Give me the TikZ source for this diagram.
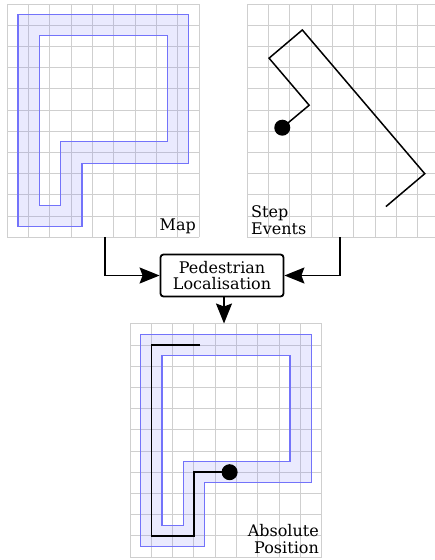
\documentclass[tikz,border=0pt]{standalone}
\usepackage{fontspec}
\setmainfont{DejaVu Serif}
\usetikzlibrary{arrows.meta,positioning}
\definecolor{wallc}{RGB}{115,115,250}

\begin{document}
\begin{tikzpicture}[
  x=1pt,y=-1pt,
  >={Stealth[length=20pt,width=16pt,inset=3pt]},
  cell/.style={x=21.33pt,y=21.2pt},
  gridline/.style={draw=gray!38,line width=1pt},
  corridor/.style={draw=wallc,line width=1.1pt,fill=wallc,
    fill opacity=0.15,even odd rule},
  track/.style={draw=black,line width=1.5pt,line join=miter},
  dot/.style={circle,fill=black,minimum size=16pt,inner sep=0pt},
  sig/.style={->,line width=1.6pt},
  block/.style={draw=black,fill=white,rounded corners=3pt,line width=1.8pt,
    minimum width=123pt,minimum height=42pt,align=center,inner sep=0pt},
  lab/.style={font=\fontsize{16}{16.7}\selectfont,align=right,inner sep=0pt}]

  \useasboundingbox (0,0) rectangle (435,560);

  % map
  \begin{scope}[shift={(7.3,237.3)},cell]
    \draw[gridline] (0,0) grid[step=1] (9,11);
    \draw[corridor] (0.5,0.5) -- (3.5,0.5) -- (3.5,3.5) -- (8.5,3.5) -- (8.5,10.5) -- (0.5,10.5) -- cycle
      (1.5,1.5) -- (2.5,1.5) -- (2.5,4.5) -- (7.5,4.5) -- (7.5,9.5) -- (1.5,9.5) -- cycle;
  \end{scope}
  \node[lab,anchor=south east] (maplab) at (196,234) {Map};

  % step events
  \begin{scope}[shift={(247.3,237.3)},cell]
    \draw[gridline] (0,0) grid[step=1] (8.94,11);
    \node[dot] (stepdot) at (1.64,5.17) {};
    \draw[track] (6.5,1.45) -- (8.32,3) -- (2.58,9.78) -- (1.02,8.45) -- (2.9,6.23) -- (stepdot.center);
  \end{scope}
  \node[lab,anchor=south west,align=left] (steplab) at (251,235) {Step\\Events};

  % absolute position
  \begin{scope}[shift={(130,557)},cell]
    \draw[gridline] (0,0) grid[step=1] (9,11);
    \draw[corridor] (0.5,0.5) -- (3.5,0.5) -- (3.5,3.5) -- (8.5,3.5) -- (8.5,10.5) -- (0.5,10.5) -- cycle
      (1.5,1.5) -- (2.5,1.5) -- (2.5,4.5) -- (7.5,4.5) -- (7.5,9.5) -- (1.5,9.5) -- cycle;
    \node[dot] (absdot) at (4.67,4) {};
    \draw[track] (3.3,10) -- (1,10) -- (1,1) -- (3,1) -- (3,4) -- (absdot.center);
  \end{scope}
  \node[lab,anchor=south east] (abslab) at (319,554) {Absolute\\Position};

  % block
  \node[block,font=\fontsize{16}{16.7}\selectfont] (loc) at (222,275.5) {Pedestrian\\Localisation};

  % connectors
  \coordinate (mapout) at (105,237.3);
  \coordinate (stepout) at (340,237.3);
  \coordinate (absin) at (224,323.5);
  \draw[sig] (mapout) |- (loc.west);
  \draw[sig] (stepout) |- (loc.east);
  \draw[sig] (absin |- loc.south) -- (absin);
\end{tikzpicture}
\end{document}
